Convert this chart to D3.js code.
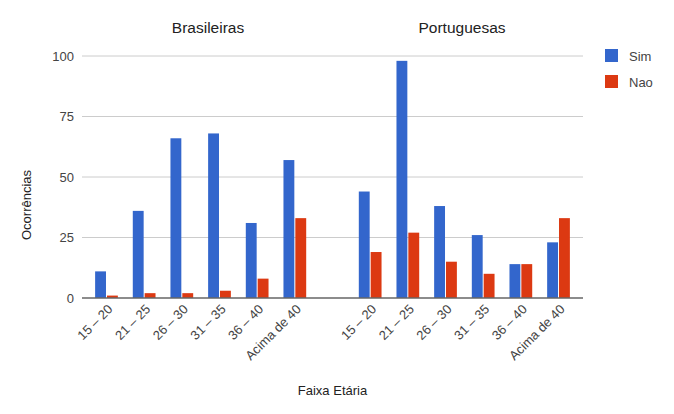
<!DOCTYPE html>
<html>
<head>
<meta charset="utf-8">
<script src="https://cdn.jsdelivr.net/npm/d3@7"></script>
<style>
  body { margin: 0; background: #fff; }
  text { font-family: "Liberation Sans", Arial, sans-serif; }
</style>
</head>
<body>
<svg id="chart" width="674" height="414"></svg>
<script>
'use strict';

// Data
const faixas = ['15 – 20', '21 – 25', '26 – 30', '31 – 35', '36 – 40', 'Acima de 40'];
const grupos = ['Brasileiras', 'Portuguesas'];
const series = ['Sim', 'Nao'];
const brasSim = [11, 36, 66, 68, 31, 57];
const brasNao = [1, 2, 2, 3, 8, 33];
const portSim = [44, 98, 38, 26, 14, 23];
const portNao = [19, 27, 15, 10, 14, 33];
const yTicks = [0, 25, 50, 75, 100];
const colors = ['#3366cc', '#dc3912'];

// Build the rows: 6 + empty slot + 6
let rows = [];
faixas.forEach((f, i) => rows.push({ key: 'b' + i, label: f, vals: [brasSim[i], brasNao[i]] }));
rows.push({ key: 'gap', label: '', vals: [] });
faixas.forEach((f, i) => rows.push({ key: 'p' + i, label: f, vals: [portSim[i], portNao[i]] }));

const plotL = 82, plotR = 583, plotT = 56, plotB = 298;
const svg = d3.select('#chart');

let x = d3.scaleBand()
  .domain(rows.map(d => d.key))
  .range([plotL, plotR])
  .paddingInner(0.37)
  .paddingOuter(0.15 + 0.37 / 2);
let xs = d3.scaleBand().domain(series).range([0, x.bandwidth()]);
let y = d3.scaleLinear().domain([0, 100]).range([plotB, plotT]);

// Gridlines
svg.append('g').selectAll('line')
  .data(yTicks.filter(t => t > 0))
  .join('line')
  .attr('x1', plotL).attr('x2', plotR)
  .attr('y1', d => y(d)).attr('y2', d => y(d))
  .attr('stroke', '#cccccc').attr('stroke-width', 1);

// Y tick labels
svg.append('g').selectAll('text')
  .data(yTicks)
  .join('text')
  .attr('x', 74).attr('y', d => y(d))
  .attr('dy', '0.35em')
  .attr('text-anchor', 'end')
  .attr('font-size', 13)
  .attr('fill', '#444')
  .text(d => d);

// Bars
let g = svg.append('g').selectAll('g')
  .data(rows.filter(d => d.vals.length))
  .join('g')
  .attr('transform', d => 'translate(' + x(d.key) + ',0)');
g.selectAll('rect')
  .data(d => d.vals.map((v, i) => ({ s: series[i], v: v, i: i })))
  .join('rect')
  .attr('x', d => xs(d.s) + 0.5)
  .attr('width', xs.bandwidth() - 1)
  .attr('y', d => y(d.v))
  .attr('height', d => y(0) - y(d.v))
  .attr('fill', d => colors[d.i]);

// Baseline
svg.append('line')
  .attr('x1', plotL).attr('x2', plotR)
  .attr('y1', y(0)).attr('y2', y(0))
  .attr('stroke', '#666').attr('stroke-width', 1.5);

// Rotated category labels
svg.append('g').selectAll('text')
  .data(rows.filter(d => d.label))
  .join('text')
  .attr('transform', d => 'translate(' + (x(d.key) + x.bandwidth() / 2 + 7) + ',' + (plotB + 12) + ') rotate(-45)')
  .attr('text-anchor', 'end')
  .attr('font-size', 13)
  .attr('fill', '#444')
  .text(d => d.label);

// Group titles
const titleX = [208, 462];
svg.append('g').selectAll('text')
  .data(grupos)
  .join('text')
  .attr('x', (d, i) => titleX[i]).attr('y', 33)
  .attr('text-anchor', 'middle')
  .attr('font-size', 15.5)
  .attr('fill', '#222')
  .text(d => d);

// Axis titles
svg.append('text')
  .attr('x', (plotL + plotR) / 2).attr('y', 395)
  .attr('text-anchor', 'middle')
  .attr('font-size', 13)
  .attr('fill', '#222')
  .text('Faixa Etária');
svg.append('text')
  .attr('transform', 'translate(31,205) rotate(-90)')
  .attr('text-anchor', 'middle')
  .attr('font-size', 13)
  .attr('fill', '#222')
  .text('Ocorrências');

// Legend
let lg = svg.append('g').selectAll('g')
  .data(series)
  .join('g')
  .attr('transform', (d, i) => 'translate(605,' + (49 + i * 26) + ')');
lg.append('rect')
  .attr('width', 13).attr('height', 13)
  .attr('fill', (d, i) => colors[i]);
lg.append('text')
  .attr('x', 24).attr('y', 7)
  .attr('dy', '0.35em')
  .attr('font-size', 13)
  .attr('fill', '#444')
  .text(d => d);
</script>
</body>
</html>
